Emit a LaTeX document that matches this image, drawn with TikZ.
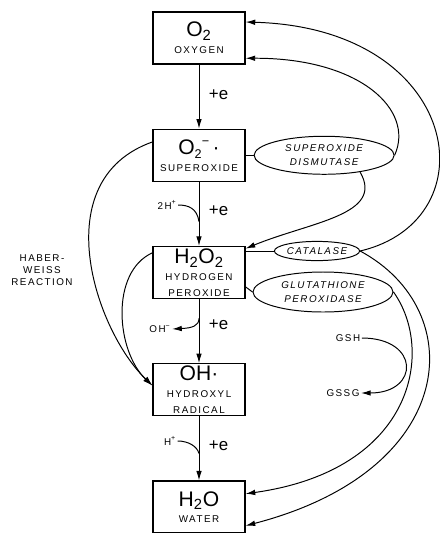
\documentclass[tikz,border=0pt]{standalone}
\usepackage{fontspec}
\setmainfont{Liberation Sans}
\newfontfamily\spacedfont[LetterSpace=15]{Liberation Sans}
\usetikzlibrary{shapes.geometric,arrows.meta,positioning,calc}
\newcommand{\bigchem}{\fontsize{15}{17}\selectfont}
\newcommand{\capsname}{\spacedfont\fontsize{7}{8.5}\selectfont}
\newcommand{\chemidx}{\fontsize{9}{9}\selectfont}
\tikzset{
  stage style/.style={rectangle, draw, line width=0.9pt, minimum width=2.3cm,
    minimum height=1.3cm, align=center, inner sep=1pt},
  enz style/.style={ellipse, draw, line width=0.7pt, inner sep=0pt, align=center,
    font=\spacedfont\itshape\fontsize{7}{9.5}\selectfont},
  arr style/.style={-{Latex[length=2.4mm,width=1.4mm]}, line width=0.7pt},
  ln style/.style={line width=0.7pt},
  tag style/.style={font=\capsname, inner sep=1pt, align=center},
  pe style/.style={font=\fontsize{12}{14}\selectfont, inner sep=1pt}
}

\begin{document}
\begin{tikzpicture}[x=0.25mm, y=-0.25mm, node distance=1.6cm]
\useasboundingbox (0,0) rectangle (440,533);
% reduction chain
\node[stage style] (o2) at (199,38)
  {{\bigchem O\textsubscript{2}}\\{\capsname OXYGEN}};
\node[stage style, below=of o2] (super)
  {{\bigchem O\raisebox{-3pt}{\chemidx 2}\raisebox{6pt}{\chemidx −}\,·}\\{\capsname SUPEROXIDE}};
\node[stage style, below=of super] (h2o2)
  {{\bigchem H\textsubscript{2}O\textsubscript{2}}\\{\capsname HYDROGEN}\\[-1pt]{\capsname PEROXIDE}};
\node[stage style, below=of h2o2] (oh)
  {{\bigchem OH·}\\{\capsname HYDROXYL}\\[-1pt]{\capsname RADICAL}};
\node[stage style, below=of oh] (h2o)
  {{\bigchem H\textsubscript{2}O}\\{\capsname WATER}};

% enzymes
\node[enz style, minimum width=3.5cm, minimum height=0.95cm, right=0.2cm of super] (sod)
  {SUPEROXIDE\\DISMUTASE};
\node[enz style, minimum width=2cm, minimum height=0.48cm] (cat) at (317,251) {CATALASE};
\node[enz style, minimum width=3.5cm, minimum height=1cm] (glut) at (323,292)
  {GLUTATHIONE\\PEROXIDASE};

% side labels
\node[tag style] (hw) at (42,270) {HABER-\\WEISS\\REACTION};
\node[tag style] (gsh) at (348,338) {GSH};
\node[tag style] (gssg) at (343,393) {GSSG};
\node[tag style] (hp2) at (167,205) {2H\textsuperscript{+}};
\node[tag style] (ohm) at (160,329) {OH\textsuperscript{−}};
\node[tag style] (hp1) at (170,441) {H\textsuperscript{+}};

% attachment points
\coordinate (j1) at ($(super.south)!0.62!(h2o2.north)$);
\coordinate (j2) at ($(h2o2.south)!0.3!(oh.north)$);
\coordinate (j3) at ($(oh.south)!0.58!(h2o.north)$);
\coordinate (o2in1) at ($(o2.north east)!0.2!(o2.south east)$);
\coordinate (o2in2) at ($(o2.north east)!0.88!(o2.south east)$);
\coordinate (h2in) at ($(h2o2.north east)!0.05!(h2o2.south east)$);
\coordinate (hg) at ($(h2o2.north east)!0.77!(h2o2.south east)$);
\coordinate (h2oin1) at ($(h2o.north east)!0.25!(h2o.south east)$);
\coordinate (h2oin2) at ($(h2o.north east)!0.85!(h2o.south east)$);
\coordinate (swest) at ($(super.north west)!0.25!(super.south west)$);
\coordinate (hwest) at ($(h2o2.north west)!0.13!(h2o2.south west)$);
\coordinate (ohin) at ($(oh.north west)!0.42!(oh.south west)$);

% main arrows
\draw[arr style] (o2) -- node[pe style, right=2mm, pos=0.47] (e1) {+e} (super);
\draw[arr style] (super) -- node[pe style, right=2mm, pos=0.45] (e2) {+e} (h2o2);
\draw[arr style] (h2o2) -- node[pe style, right=2mm, pos=0.4] (e3) {+e} (oh);
\draw[arr style] (oh) -- node[pe style, right=2mm, pos=0.45] (e4) {+e} (h2o);
\draw[ln style] (hp2.east) .. controls (188,205) and (197,208) .. (j1);
\draw[arr style] (j2) .. controls (199,326) and (192,328) .. (ohm.east);
\draw[ln style] (hp1.east) .. controls (188,441) and (197,446) .. (j3);

% enzyme links
\draw[ln style] (super) -- (sod);
\draw[ln style] (cat.west) -- (cat.west -| h2o2.east);
\draw[ln style] (hg) -- (glut.west);
\draw[arr style] (sod.east) .. controls (415,110) and (360,58) .. (o2in2);
\draw[arr style] (sod.-25) .. controls (385,215) and (310,222) .. (h2in);
\draw[arr style] (cat.east) .. controls (492,220) and (462,28) .. (o2in1);
\draw[arr style] (cat.east) .. controls (470,310) and (460,470) .. (h2oin2);
\draw[arr style] (glut.east) .. controls (435,350) and (415,470) .. (h2oin1);
\draw[arr style] (gsh.east) .. controls (420,338) and (420,393) .. (gssg.east);

% Haber-Weiss
\draw[arr style] (swest) .. controls (45,180) and (95,330) .. (ohin);
\draw[arr style] (hwest) .. controls (110,272) and (116,351) .. (ohin);
\end{tikzpicture}
\end{document}
